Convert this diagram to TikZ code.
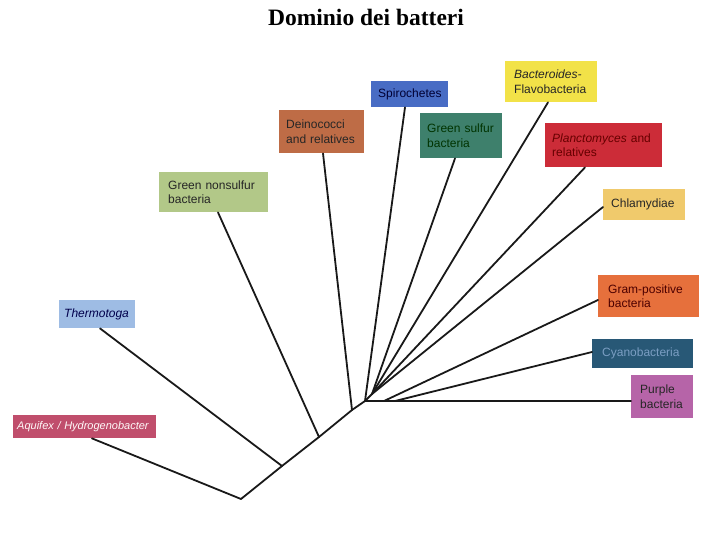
\documentclass[tikz,border=0pt]{standalone}
\usepackage{fontspec}
\setmainfont{Liberation Serif}
\setsansfont{Liberation Sans}
\usetikzlibrary{calc}
\definecolor{cAqui}{RGB}{192,78,108}
\definecolor{cTherm}{RGB}{158,188,228}
\definecolor{cGns}{RGB}{178,200,136}
\definecolor{cDein}{RGB}{190,108,70}
\definecolor{cSpiro}{RGB}{72,108,196}
\definecolor{cGs}{RGB}{62,128,108}
\definecolor{cBact}{RGB}{242,226,72}
\definecolor{cPlanc}{RGB}{204,44,56}
\definecolor{cChla}{RGB}{240,202,108}
\definecolor{cGram}{RGB}{230,112,60}
\definecolor{cCyano}{RGB}{40,88,118}
\definecolor{cPurp}{RGB}{182,100,168}
\newcommand\nohyph{\hyphenpenalty=10000\relax\exhyphenpenalty=10000\relax}
\tikzset{
  taxon/.style={fill=#1, inner ysep=0pt, anchor=north west, font=\sffamily\fontsize{12}{14.5}\selectfont\nohyph, align=left, text=black!85},
  branch/.style={line width=1.8pt, black!90, line cap=round, line join=round}
}
\begin{document}
\begin{tikzpicture}[x=1pt,y=-1pt]
\useasboundingbox (0,0) rectangle (720,540);
\node[font=\bfseries\fontsize{23.5}{27}\selectfont] (title) at (366,17) {Dominio dei batteri};
% boxes: (left,top), width, height
\node[taxon=cAqui, minimum width=143, minimum height=23, inner xsep=4pt, text width=135, text=white!90!pink, font=\sffamily\fontsize{11}{13}\selectfont\nohyph] (aqui) at (13,415) {\itshape Aquifex~/~Hydrogenobacter};
\node[taxon=cTherm, minimum width=76, minimum height=28, inner xsep=5pt, text width=66, text=blue!30!black] (therm) at (59,300) {\itshape Thermotoga};
\node[taxon=cGns, minimum width=109, minimum height=40, inner xsep=9pt, text width=91] (gns) at (159,172) {Green~nonsulfur\\bacteria};
\node[taxon=cDein, minimum width=85, minimum height=43, inner xsep=7pt, text width=71] (dein) at (279,110) {Deinococci\\and~relatives};
\node[taxon=cSpiro, minimum width=77, minimum height=26, inner xsep=7pt, text width=63, text=blue!20!black] (spiro) at (371,81) {Spirochetes};
\node[taxon=cGs, minimum width=82, minimum height=45, inner xsep=7pt, text width=68, text=black!80!green] (gs) at (420,113) {Green~sulfur\\bacteria};
\node[taxon=cBact, minimum width=92, minimum height=41, inner xsep=9pt, text width=74] (bact) at (505,61) {\itshape Bacteroides-\\\upshape Flavobacteria};
\node[taxon=cPlanc, minimum width=117, minimum height=44, inner xsep=7pt, text width=103, text=red!40!black] (planc) at (545,123) {\itshape Planctomyces\upshape{}~and\\relatives};
\node[taxon=cChla, minimum width=82, minimum height=31, inner xsep=8pt, text width=66] (chla) at (603,189) {Chlamydiae};
\node[taxon=cGram, minimum width=101, minimum height=42, inner xsep=10pt, text width=81, text=black!70!red] (gram) at (598,275) {Gram-positive\\bacteria};
\node[taxon=cCyano, minimum width=101, minimum height=29, inner xsep=10pt, text width=81, text=cTherm!70!cCyano] (cyano) at (592,339) {Cyanobacteria};
\node[taxon=cPurp, minimum width=62, minimum height=43, inner xsep=9pt, text width=44] (purp) at (631,375) {Purple\\bacteria};
% junctions
\coordinate (R) at (241,499);
\coordinate (J1) at (282,466);
\coordinate (J2) at (319,437);
\coordinate (J3) at (352,410);
\coordinate (J4) at (365,401);
\coordinate (K) at (372,394);
\coordinate (G) at (384,401);
\coordinate (C) at (395,401);
% trunk
\draw[branch] (aqui.south west) ++(79,0) -- (R) -- (J1) -- (J2) -- (J3) -- (J4) -- (purp.west |- J4);
\draw[branch] (J1) -- ($(therm.south west)+(41,0)$);
\draw[branch] (J2) -- ($(gns.south west)+(59,0)$);
\draw[branch] (J3) -- ($(dein.south west)+(44,0)$);
\draw[branch] (J4) -- ($(spiro.south west)+(34,0)$);
\draw[branch] (J4) -- (K);
\draw[branch] (K) -- ($(gs.south west)+(35,0)$);
\draw[branch] (K) -- ($(bact.south west)+(43,0)$);
\draw[branch] (K) -- ($(planc.south west)+(40,0)$);
\draw[branch] (K) -- ($(chla.north west)+(0,18)$);
\draw[branch] (G) -- ($(gram.north west)+(0,25)$);
\draw[branch] (C) -- ($(cyano.north west)+(0,13)$);
\end{tikzpicture}
\end{document}
